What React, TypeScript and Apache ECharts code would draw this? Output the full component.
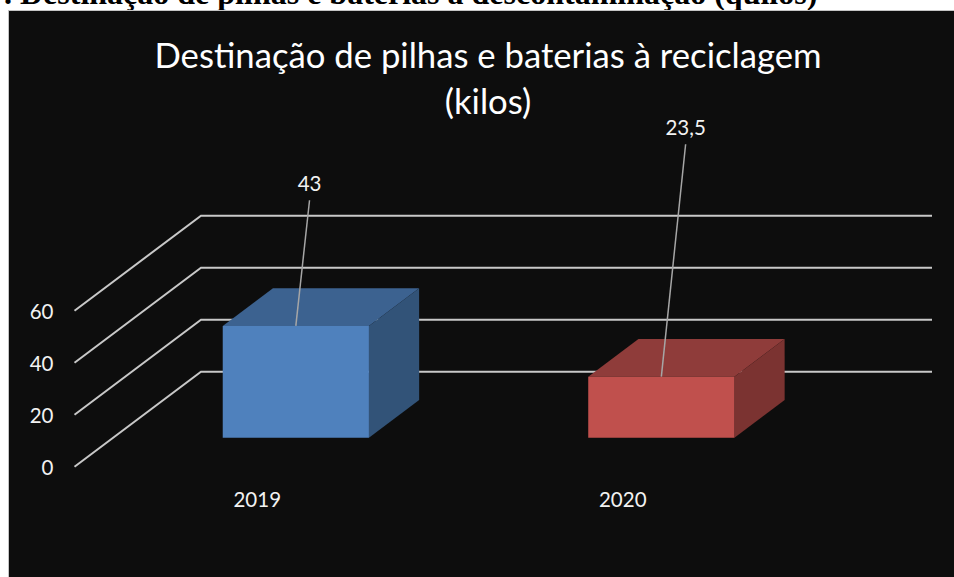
import React, { useEffect, useRef } from "react";
import * as echarts from "echarts";

const categories = ["2019", "2020"];
const values = [43, 23.5];
const yTicks = [0, 20, 40, 60];
const chartTitle = "Destinação de pilhas e baterias à reciclagem\n(kilos)";
const caption = ". Destinação de pilhas e baterias à descontaminação (quilos)";

const FONT = "Lato, sans-serif";
const DEPTH = { x: 126.5, y: -95 };
const BAR_FRONT = 0.305;
const BAR_BACK = 0.702;
const BAR_WIDTH = 0.4;
const faces = [
  { front: "#4f81bd", top: "#3c6290", side: "#325378" },
  { front: "#c0504d", top: "#8f3c3a", side: "#7b3331" },
];
const leaderOffsets = [
  { x: 13.7, y: -125.7, labelY: -143 },
  { x: 24.3, y: -232.4, labelY: -250 },
];

export default function App() {
  const ref = useRef<HTMLDivElement>(null);
  useEffect(() => {
    const chart = echarts.init(ref.current!, null, { renderer: "svg" });
    const option: any = {
      animation: false,
      backgroundColor: "#ffffff",
      title: {
        text: chartTitle,
        left: 483,
        top: 26,
        textAlign: "center",
        textStyle: {
          color: "#ffffff",
          fontFamily: FONT,
          fontWeight: "normal",
          fontSize: 34.7,
          lineHeight: 46,
        },
      },
      graphic: [
        {
          type: "rect",
          z: -10,
          silent: true,
          shape: { x: 8.5, y: 10.5, width: 960, height: 580 },
          style: { fill: "#0d0d0d", stroke: "#c4c4c4", lineWidth: 1 },
        },
        {
          type: "text",
          z: -11,
          silent: true,
          x: 4,
          y: -23,
          style: {
            text: caption,
            fill: "#000000",
            font: 'bold 32px "Liberation Serif", serif',
          },
        },
      ],
      grid: { left: 74.5, top: 310.7, width: 731, height: 156 },
      xAxis: {
        type: "category",
        data: categories,
        axisLine: { show: false },
        axisTick: { show: false },
        splitLine: { show: false },
        axisLabel: { color: "#f2f2f2", fontFamily: FONT, fontSize: 20.5, margin: 22 },
      },
      yAxis: {
        type: "value",
        min: yTicks[0],
        max: yTicks[yTicks.length - 1],
        interval: 20,
        axisLine: { show: false },
        axisTick: { show: false },
        splitLine: { show: false },
        axisLabel: { color: "#f2f2f2", fontFamily: FONT, fontSize: 20.5, margin: 21 },
      },
      series: [
        {
          type: "custom",
          z: 2,
          silent: true,
          data: yTicks.map((t) => [0, t]),
          encode: { x: 0, y: 1 },
          renderItem: (params: any, api: any) => {
            const cs = params.coordSys;
            const y = api.coord([0, api.value(1)])[1];
            return {
              type: "polyline",
              shape: {
                points: [
                  [cs.x, y],
                  [cs.x + DEPTH.x, y + DEPTH.y],
                  [cs.x + cs.width + DEPTH.x, y + DEPTH.y],
                ],
              },
              style: { stroke: "#c8c8c8", lineWidth: 2, fill: "none" },
            };
          },
        },
        {
          type: "custom",
          z: 3,
          silent: true,
          data: values.map((v, i) => [i, v]),
          encode: { x: 0, y: 1 },
          renderItem: (params: any, api: any) => {
            const i = api.value(0);
            const v = api.value(1);
            const c = faces[i];
            const [cx, yBase] = api.coord([i, 0]);
            const yTop = api.coord([i, v])[1];
            const half = (api.size([1, 0])[0] * BAR_WIDTH) / 2;
            const pt = (x: number, y: number, t: number) => [x + DEPTH.x * t, y + DEPTH.y * t];
            const xl = cx - half;
            const xr = cx + half;
            const fbl = pt(xl, yBase, BAR_FRONT);
            const fbr = pt(xr, yBase, BAR_FRONT);
            const ftl = pt(xl, yTop, BAR_FRONT);
            const ftr = pt(xr, yTop, BAR_FRONT);
            const btl = pt(xl, yTop, BAR_BACK);
            const btr = pt(xr, yTop, BAR_BACK);
            const bbr = pt(xr, yBase, BAR_BACK);
            const topCenterX = (ftl[0] + ftr[0]) / 2;
            const off = leaderOffsets[i];
            return {
              type: "group",
              children: [
                {
                  type: "polygon",
                  shape: { points: [ftl, ftr, btr, btl] },
                  style: { fill: c.top },
                },
                {
                  type: "polygon",
                  shape: { points: [ftr, btr, bbr, fbr] },
                  style: { fill: c.side },
                },
                {
                  type: "polygon",
                  shape: { points: [ftl, ftr, fbr, fbl] },
                  style: { fill: c.front },
                },
                {
                  type: "line",
                  shape: {
                    x1: topCenterX,
                    y1: ftl[1],
                    x2: topCenterX + off.x,
                    y2: ftl[1] + off.y,
                  },
                  style: { stroke: "#a6a6a6", lineWidth: 1.5 },
                },
                {
                  type: "text",
                  style: {
                    text: String(v).replace(".", ","),
                    x: topCenterX + off.x,
                    y: ftl[1] + off.labelY,
                    fill: "#f2f2f2",
                    font: `20.5px ${FONT}`,
                    align: "center",
                    verticalAlign: "middle",
                  },
                },
              ],
            };
          },
        },
      ],
    };
    chart.setOption(option);
    return () => chart.dispose();
  }, []);
  return (
    <div
      ref={ref}
      style={{ position: "absolute", left: 0, top: 0, width: 954, height: 577, overflow: "hidden" }}
    />
  );
}
